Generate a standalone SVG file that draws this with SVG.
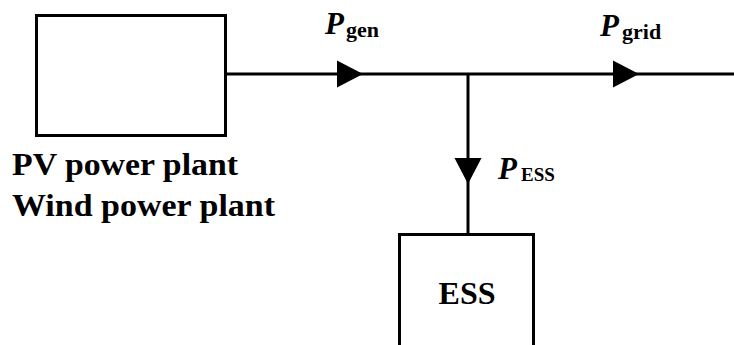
<svg xmlns="http://www.w3.org/2000/svg" xmlns:xlink="http://www.w3.org/1999/xlink" width="734" height="345" viewBox="0 0 734 345">
  <style>
    .box { fill: #ffffff; stroke: #000000; stroke-width: 3; }
    .wire { fill: none; stroke: #000000; stroke-width: 3; }
    .head { fill: #000000; stroke: none; }
    text { font-family: 'Liberation Serif', 'Times New Roman', serif; font-weight: bold; fill: #000000; }
    .sym { font-style: italic; font-size: 31px; }
    .sub { font-size: 22px; }
    .subc { font-size: 19px; }
  </style>
  <defs>
    <polygon id="tri" points="0,-13.5 26,0 0,13.5"/>
  </defs>
  <rect width="734" height="345" fill="#ffffff"/>

  <g id="pv-wind-plant">
    <rect class="box" x="36.5" y="15.5" width="189" height="120"/>
    <text x="12" y="175" font-size="32" textLength="226" lengthAdjust="spacingAndGlyphs">PV power plant</text>
    <text x="12" y="216" font-size="32" textLength="263" lengthAdjust="spacingAndGlyphs">Wind power plant</text>
  </g>

  <g id="ess">
    <rect class="box" x="399.5" y="234.5" width="134" height="130"/>
    <text x="467" y="304" font-size="32" text-anchor="middle">ESS</text>
  </g>

  <g id="connectors">
    <line class="wire" x1="225" y1="74" x2="734" y2="74"/>
    <line class="wire" x1="468" y1="74" x2="468" y2="234"/>
    <use xlink:href="#tri" class="head" transform="translate(337,74)"/>
    <use xlink:href="#tri" class="head" transform="translate(613,74)"/>
    <use xlink:href="#tri" class="head" transform="translate(468,158) rotate(90)"/>
  </g>

  <g id="labels">
    <text y="34"><tspan class="sym" x="325">P</tspan><tspan class="sub" x="346" y="37">gen</tspan></text>
    <text y="36"><tspan class="sym" x="600">P</tspan><tspan class="sub" x="622" y="39">grid</tspan></text>
    <text y="179"><tspan class="sym" x="498">P</tspan><tspan class="subc" x="521" y="181">ESS</tspan></text>
  </g>
</svg>
